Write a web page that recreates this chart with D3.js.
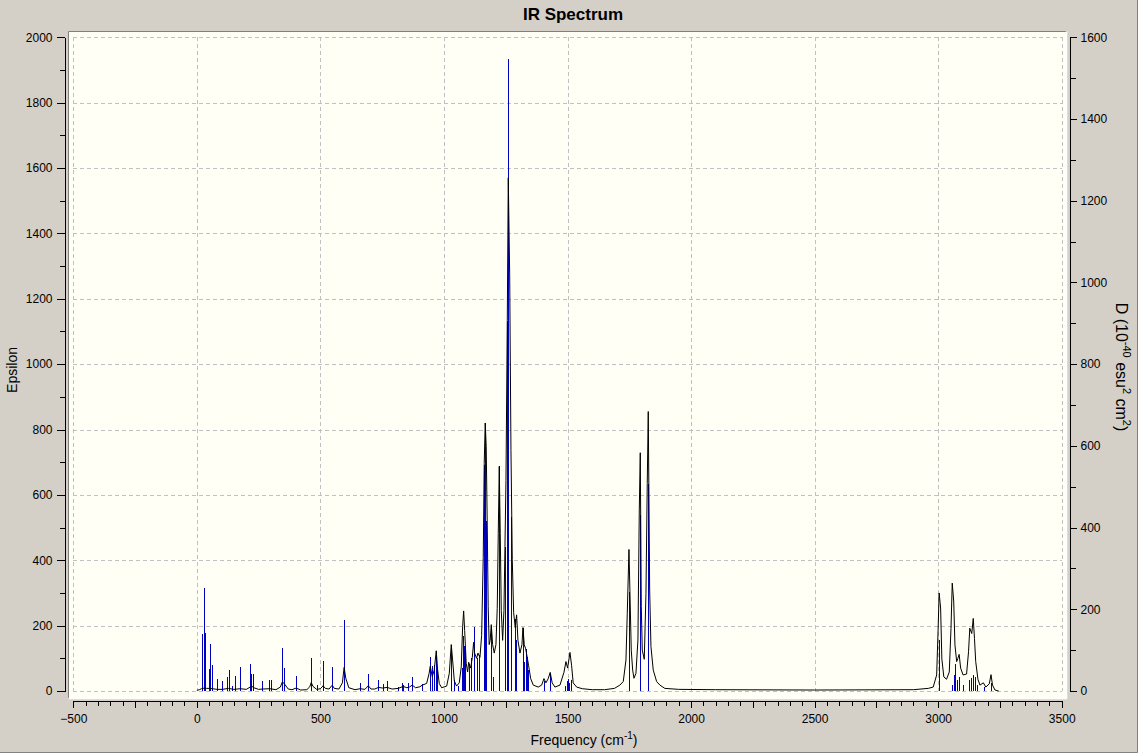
<!DOCTYPE html>
<html>
<head>
<meta charset="utf-8">
<script src="https://cdn.jsdelivr.net/npm/d3@7"></script>
<style>
	body { margin: 0; background: #d4d0c8; }
	svg { display: block; }
	.axis text { font-family: "Liberation Sans", Arial, sans-serif; font-size: 12px; fill: #000; }
	.axis path, .axis line { stroke: #000; shape-rendering: crispEdges; }
</style>
</head>
<body>
<div id="chart"></div>
<script>
// stick spectrum: [frequency cm-1, epsilon]
const sticks = [
	[19, 174], [30, 314], [34, 178], [47.6, 67], [51.6, 144], [62, 80], [82.6, 37], [103, 31],
	[123, 43], [128.6, 64], [141, 15], [155, 46], [175.6, 73], [216, 83], [220, 52], [228, 52],
	[265, 31], [293, 34], [298.6, 34], [345.6, 131], [353.7, 70], [402, 46], [463, 101], [487, 18],
	[511.6, 92], [548, 73], [596.5, 217], [661, 24], [693.6, 52], [734, 34], [754, 21], [770, 31],
	[815, 12], [831, 24], [835, 18], [855.5, 24], [871.7, 43], [912, 21], [944.6, 104], [952.6, 76],
	[960.7, 80], [968.8, 122], [973, 67], [1029.5, 141], [1041.7, 34], [1058, 15], [1074, 70],
	[1078, 168], [1082, 138], [1086, 125], [1102, 83], [1110.5, 101], [1122.6, 196], [1134.8, 101],
	[1143, 110], [1164, 690], [1167, 820], [1172, 520], [1191.6, 200], [1199.6, 44], [1222, 481],
	[1224, 687], [1245.6, 442], [1256, 1133], [1260.3, 1935], [1270, 533], [1288.6, 220], [1293, 155],
	[1318.4, 194], [1322, 90], [1332, 129], [1336, 103], [1340, 64], [1404.7, 31], [1429, 51],
	[1490, 15], [1497, 31], [1503, 38], [1508, 25], [1514, 34], [1748.7, 304], [1794.4, 538],
	[1826.8, 633], [3003, 156], [3057, 18], [3065, 49], [3069, 83], [3077, 34], [3085, 44],
	[3101, 18], [3126, 34], [3134, 40], [3142, 49], [3150, 42], [3158, 18], [3187, 13], [3215, 24]
];

// broadened spectrum: [frequency cm-1, epsilon]
const curve = [
	[0, 2], [10, 4], [19, 7], [30, 9], [40, 8], [52, 8], [62, 7], [82, 5], [103, 5], [128, 8],
	[150, 5], [176, 7], [200, 5], [216, 12], [222, 15], [230, 10], [250, 5], [265, 6], [296, 7],
	[320, 4], [338, 12], [346, 28], [354, 22], [370, 6], [385, 4], [402, 9], [420, 3], [445, 4],
	[457, 13], [463, 26], [470, 14], [485, 5], [500, 7], [511, 16], [520, 8], [535, 6], [548, 18],
	[556, 8], [575, 6], [589, 25], [596, 72], [603, 38], [615, 10], [640, 4], [661, 7], [680, 5],
	[694, 16], [705, 6], [720, 6], [735, 11], [752, 9], [770, 11], [790, 6], [815, 8], [835, 14],
	[850, 10], [860, 12], [872, 18], [885, 10], [903, 13], [912, 18], [930, 23], [940, 54],
	[944.6, 76], [952.6, 44], [960.7, 64], [968.8, 123], [974.5, 64], [981, 23], [990.6, 10],
	[1011, 15], [1021.6, 54], [1029.6, 142], [1035, 95], [1042, 31], [1051, 15], [1062, 25],
	[1070, 74], [1075.6, 197], [1079.7, 245], [1083.8, 185], [1090, 85], [1095.8, 58], [1100, 88],
	[1108, 70], [1114.7, 102], [1120, 149], [1124, 116], [1132, 100], [1137.6, 116], [1145.7, 103],
	[1152.5, 170], [1159, 409], [1163, 696], [1167, 820], [1171, 748], [1175, 520], [1179, 259],
	[1183, 142], [1187, 155], [1191.5, 203], [1197, 142], [1203.6, 116], [1210.4, 142],
	[1215.7, 253], [1219.8, 481], [1223.8, 687], [1227.9, 481], [1232, 246], [1237.5, 155],
	[1242.8, 246], [1246.9, 442], [1251, 644], [1256.3, 1133], [1260.3, 1570], [1266, 1276],
	[1271.2, 735], [1276.5, 403], [1282, 240], [1288.6, 194], [1294, 233], [1299.5, 155],
	[1307.6, 116], [1315.7, 142], [1319.7, 194], [1325, 142], [1330.7, 129], [1337, 103],
	[1342.8, 77], [1351, 38], [1361.5, 18], [1381.8, 12], [1395.4, 18], [1404.7, 38], [1412.8, 25],
	[1422, 38], [1430, 57], [1438, 25], [1449, 12], [1469.5, 18], [1485.6, 57], [1493.7, 90],
	[1500.5, 70], [1510, 118], [1516.7, 77], [1523, 25], [1537, 12], [1560, 7], [1600, 4],
	[1650, 4], [1690, 8], [1712, 18], [1725.7, 29], [1736.6, 95], [1741.9, 238], [1748.7, 433],
	[1752.8, 299], [1758, 125], [1763.7, 64], [1769, 39], [1777, 54], [1785, 156], [1790.5, 554],
	[1794.5, 729], [1798.6, 258], [1802.6, 125], [1810.7, 97], [1817.5, 299], [1822.8, 635],
	[1826.8, 855], [1832.5, 309], [1837.7, 136], [1847, 64], [1860.7, 29], [1874, 18], [1894, 8],
	[1950, 5], [2100, 4], [2500, 3], [2900, 4], [2960, 8], [2980, 12], [2994, 49], [3000, 192],
	[3004, 300], [3010, 254], [3015, 98], [3023, 43], [3034, 36], [3045, 58], [3052, 192],
	[3057, 330], [3063, 275], [3068, 141], [3075, 90], [3080, 100], [3085, 112], [3091, 70],
	[3101, 49], [3115, 52], [3123, 120], [3128, 192], [3136, 176], [3142, 222], [3147, 161],
	[3152, 90], [3161, 36], [3169, 18], [3183, 25], [3193, 12], [3207, 22], [3214, 50], [3220, 18],
	[3230, 3], [3245, 0]
];

// tick labels
const xTicks = [-500, 0, 500, 1000, 1500, 2000, 2500, 3000, 3500];
const yTicks = [0, 200, 400, 600, 800, 1000, 1200, 1400, 1600, 1800, 2000];
const y2Ticks = [0, 200, 400, 600, 800, 1000, 1200, 1400, 1600];

const W = 1138, H = 753;
const font = '"Liberation Sans", Arial, sans-serif';
const fmt = d3.format('d');

let svg = d3.select('#chart').append('svg')
	.attr('width', W)
	.attr('height', H);

svg.append('rect')
	.attr('width', W)
	.attr('height', H)
	.attr('fill', '#d4d0c8');

// frame edge
svg.append('path')
	.attr('d', `M${W - 0.5},0V${H - 0.5}H0`)
	.attr('fill', 'none')
	.attr('stroke', '#808080');

let x = d3.scaleLinear().domain([-500, 3500]).range([73.3, 1061.7]);
let y = d3.scaleLinear().domain([0, 2000]).range([691, 37.3]);
let y2 = d3.scaleLinear().domain([0, 1600]).range([691, 37.3]);

// plot panel
let panel = { x0: 68.5, y0: 31.5, x1: 1066.5, y1: 698.5 };
svg.append('rect')
	.attr('x', panel.x0)
	.attr('y', panel.y0)
	.attr('width', panel.x1 - panel.x0)
	.attr('height', panel.y1 - panel.y0)
	.attr('fill', '#fffff5');
svg.append('path')
	.attr('d', `M${panel.x0},${panel.y1}V${panel.y0}H${panel.x1}`)
	.attr('fill', 'none')
	.attr('stroke', '#808080');
svg.append('path')
	.attr('d', `M${panel.x1},${panel.y0}V${panel.y1}H${panel.x0}`)
	.attr('fill', 'none')
	.attr('stroke', '#ffffff')
	.attr('stroke-width', 1.5);

svg.append('clipPath')
	.attr('id', 'clip')
	.append('rect')
	.attr('x', panel.x0 + 1)
	.attr('y', panel.y0 + 1)
	.attr('width', panel.x1 - panel.x0 - 2)
	.attr('height', panel.y1 - panel.y0 - 2);

// grid
let grid = svg.append('g')
	.attr('class', 'grid')
	.attr('stroke', '#c0c0c0')
	.attr('stroke-dasharray', '4,3')
	.attr('shape-rendering', 'crispEdges');
grid.selectAll('.gx')
	.data(xTicks)
	.join('line')
	.attr('x1', d => Math.round(x(d)) + 0.5)
	.attr('x2', d => Math.round(x(d)) + 0.5)
	.attr('y1', y(2000))
	.attr('y2', y(0));
grid.selectAll('.gy')
	.data(yTicks)
	.join('line')
	.attr('y1', d => Math.round(y(d)) + 0.5)
	.attr('y2', d => Math.round(y(d)) + 0.5)
	.attr('x1', x(-500))
	.attr('x2', x(3500));

let plot = svg.append('g')
	.attr('clip-path', 'url(#clip)');

// sticks
plot.append('g')
	.selectAll('line')
	.data(sticks)
	.join('line')
	.attr('x1', d => Math.round(x(d[0])) + 0.5)
	.attr('x2', d => Math.round(x(d[0])) + 0.5)
	.attr('y1', y(0))
	.attr('y2', d => y(d[1]))
	.attr('stroke', '#0000c0')
	.attr('stroke-width', 1)
	.attr('shape-rendering', 'crispEdges');

// broadened curve
let line = d3.line()
	.x(d => x(d[0]))
	.y(d => y(d[1]));

plot.append('path')
	.datum(curve)
	.attr('d', line)
	.attr('fill', 'none')
	.attr('stroke', '#000')
	.attr('stroke-width', 1);

// axes
function clean(g) {
	g.select('.domain').remove();
}

let minorX = d3.range(-500, 3501, 50);
let midX = d3.range(-500, 3501, 250);
let minorY = d3.range(0, 2001, 100);
let minorY2 = d3.range(0, 1601, 100);

let bottom = svg.append('g').attr('class', 'axis').attr('transform', 'translate(0,700.5)');
bottom.append('g').call(d3.axisBottom(x).tickValues(minorX).tickSize(5).tickFormat('').tickSizeOuter(0)).call(clean);
bottom.append('g').call(d3.axisBottom(x).tickValues(midX).tickSize(7).tickFormat('').tickSizeOuter(0)).call(clean);
bottom.append('g').call(d3.axisBottom(x).tickValues(xTicks).tickFormat(fmt).tickSize(7).tickPadding(7).tickSizeOuter(0));

let left = svg.append('g').attr('class', 'axis').attr('transform', 'translate(64.5,0)');
left.append('g').call(d3.axisLeft(y).tickValues(minorY).tickSize(5).tickFormat('').tickSizeOuter(0)).call(clean);
left.append('g').call(d3.axisLeft(y).tickValues(yTicks).tickFormat(fmt).tickSize(8).tickPadding(4).tickSizeOuter(0));

let right = svg.append('g').attr('class', 'axis').attr('transform', 'translate(1069.5,0)');
right.append('g').call(d3.axisRight(y2).tickValues(minorY2).tickSize(6).tickFormat('').tickSizeOuter(0)).call(clean);
right.append('g').call(d3.axisRight(y2).tickValues(y2Ticks).tickFormat(fmt).tickSize(7).tickPadding(4).tickSizeOuter(0));

svg.selectAll('.axis .tick line').attr('shape-rendering', 'crispEdges');

// titles
svg.append('text')
	.attr('x', 573)
	.attr('y', 20)
	.attr('text-anchor', 'middle')
	.attr('font-family', font)
	.attr('font-weight', 'bold')
	.attr('font-size', 17)
	.text('IR Spectrum');

svg.append('text')
	.attr('transform', 'translate(17,370) rotate(-90)')
	.attr('text-anchor', 'middle')
	.attr('font-family', font)
	.attr('font-size', 14)
	.text('Epsilon');

let xl = svg.append('text')
	.attr('x', 584)
	.attr('y', 745)
	.attr('text-anchor', 'middle')
	.attr('font-family', font)
	.attr('font-size', 14);
xl.append('tspan').text('Frequency (cm');
xl.append('tspan').attr('font-size', 10).attr('dy', -6).text('-1');
xl.append('tspan').attr('dy', 6).text(')');

let yl = svg.append('text')
	.attr('transform', 'translate(1116,367) rotate(90)')
	.attr('text-anchor', 'middle')
	.attr('font-family', font)
	.attr('font-size', 16);
yl.append('tspan').text('D (10');
yl.append('tspan').attr('font-size', 11).attr('dy', -7).text('-40');
yl.append('tspan').attr('dy', 7).text(' esu');
yl.append('tspan').attr('font-size', 11).attr('dy', -7).text('2');
yl.append('tspan').attr('dy', 7).text(' cm');
yl.append('tspan').attr('font-size', 11).attr('dy', -7).text('2');
yl.append('tspan').attr('dy', 7).text(')');
</script>
</body>
</html>
